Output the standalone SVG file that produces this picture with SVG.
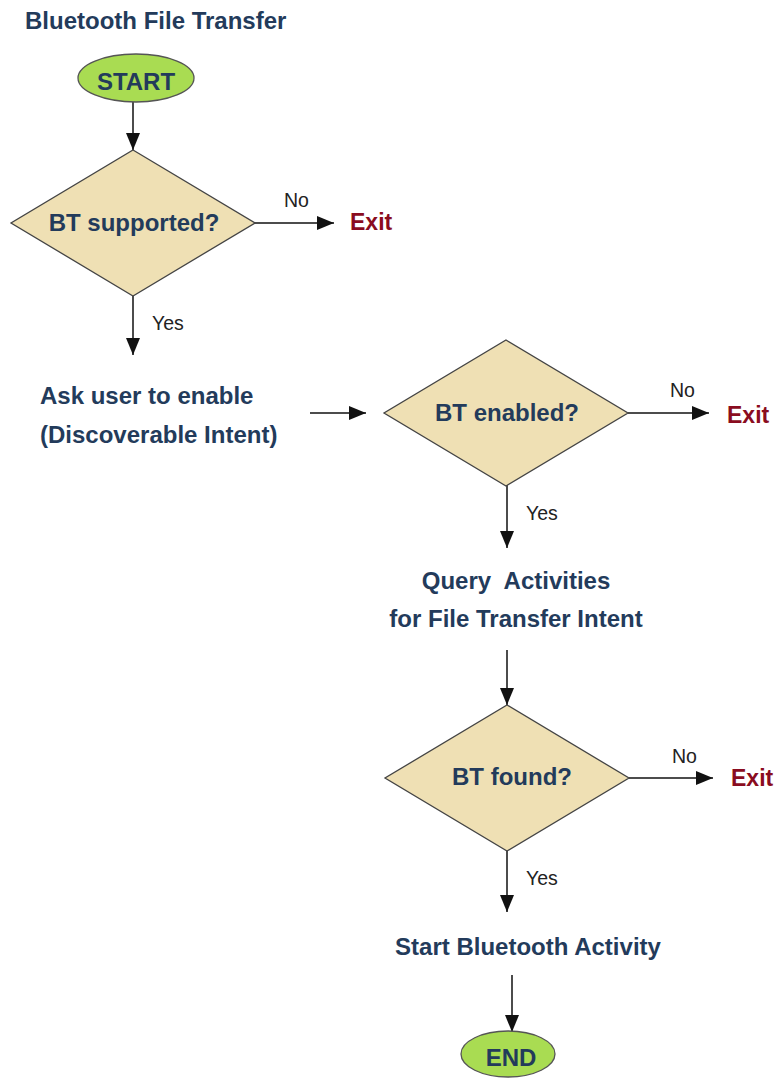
<svg xmlns="http://www.w3.org/2000/svg" width="774" height="1081" viewBox="0 0 774 1081">
<style>
.t{font-family:"Liberation Sans",Arial,sans-serif;font-weight:bold;font-size:24px;fill:#233b5b}
.c{text-anchor:middle}
.lbl{font-family:"Liberation Sans",Arial,sans-serif;font-size:19.5px;fill:#222}
.exit{font-family:"Liberation Sans",Arial,sans-serif;font-weight:bold;font-size:23px;fill:#8a0c20}
.dia{fill:#efe0b4;stroke:#444;stroke-width:1.3}
.ell{fill:#a9dc52;stroke:#555;stroke-width:1.3}
.con{stroke:#111;stroke-width:1.5;fill:none;marker-end:url(#ah)}
</style>
<defs>
<marker id="ah" markerUnits="userSpaceOnUse" markerWidth="18" markerHeight="14" refX="17" refY="7" orient="auto">
<path d="M0,0 L17,7 L0,14 Z" fill="#111"/>
</marker>
</defs>
<rect width="774" height="1081" fill="#fff"/>
<text class="t" x="25" y="29">Bluetooth File Transfer</text>
<g id="connectors">
<line class="con" x1="133" y1="102" x2="133" y2="150"/>
<line class="con" x1="254" y1="223" x2="334" y2="223"/>
<line class="con" x1="133" y1="296" x2="133" y2="355"/>
<line class="con" x1="310" y1="413" x2="366" y2="413"/>
<line class="con" x1="628" y1="413" x2="709" y2="413"/>
<line class="con" x1="507" y1="485" x2="507" y2="548"/>
<line class="con" x1="507" y1="650" x2="507" y2="705"/>
<line class="con" x1="629" y1="778" x2="713" y2="778"/>
<line class="con" x1="507" y1="850" x2="507" y2="912"/>
<line class="con" x1="512" y1="975" x2="512" y2="1032"/>
<text class="lbl" x="284" y="207">No</text>
<text class="lbl" x="152" y="330">Yes</text>
<text class="lbl" x="670" y="397">No</text>
<text class="lbl" x="526" y="520">Yes</text>
<text class="lbl" x="672" y="763">No</text>
<text class="lbl" x="526" y="885">Yes</text>
</g>
<g id="start">
<ellipse class="ell" cx="136" cy="78" rx="58" ry="24"/>
<text class="t c" x="136" y="90">START</text>
</g>
<g id="bt-supported">
<polygon class="dia" points="133,150 255,223 133,296 11,223"/>
<text class="t c" x="134" y="231">BT supported?</text>
</g>
<g id="exit1"><text class="exit" x="350" y="230">Exit</text></g>
<g id="ask-enable">
<text class="t" x="40" y="404">Ask user to enable</text>
<text class="t" x="40" y="443">(Discoverable Intent)</text>
</g>
<g id="bt-enabled">
<polygon class="dia" points="506,340 628,413 506,486 384,413"/>
<text class="t c" x="507" y="421">BT enabled?</text>
</g>
<g id="exit2"><text class="exit" x="727" y="423">Exit</text></g>
<g id="query">
<text class="t c" x="516" y="589" xml:space="preserve">Query  Activities</text>
<text class="t c" x="516" y="627">for File Transfer Intent</text>
</g>
<g id="bt-found">
<polygon class="dia" points="507,705 629,778 507,851 385,778"/>
<text class="t c" x="512" y="785">BT found?</text>
</g>
<g id="exit3"><text class="exit" x="731" y="786">Exit</text></g>
<g id="start-activity">
<text class="t c" x="528" y="955">Start Bluetooth Activity</text>
</g>
<g id="end">
<ellipse class="ell" cx="508" cy="1054" rx="47" ry="23"/>
<text class="t c" x="511" y="1066">END</text>
</g>
</svg>
